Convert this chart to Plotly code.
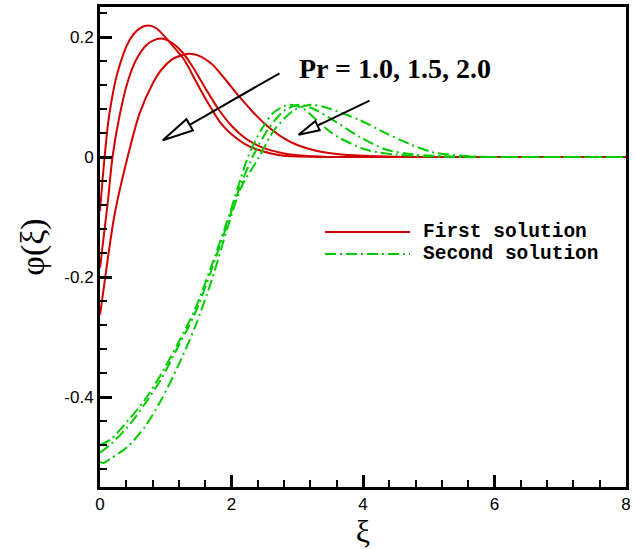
import plotly.graph_objects as go

# ---------------- data ----------------
# First solution (red, solid) for Pr = 1.0, 1.5, 2.0
xi_r1 = [0, 0.07, 0.14, 0.27, 0.45, 0.6, 0.73, 0.85, 1.0, 1.1, 1.28, 1.45, 1.6, 1.84, 2.0, 2.2, 2.4, 2.6, 2.8, 3.0, 3.5, 4.0, 5.0, 6.0, 7.0, 8.0]
phi_r1 = [-0.09, 0.0, 0.07, 0.142, 0.195, 0.214, 0.219, 0.215, 0.199, 0.186, 0.162, 0.128, 0.098, 0.056, 0.038, 0.022, 0.012, 0.006, 0.002, 0.001, 0.0, 0.0, 0.0, 0.0, 0.0, 0.0]

xi_r2 = [0, 0.12, 0.19, 0.3, 0.42, 0.55, 0.7, 0.85, 0.96, 1.1, 1.25, 1.4, 1.6, 1.8, 2.0, 2.2, 2.4, 2.6, 2.8, 3.0, 3.3, 3.6, 4.5, 6.0, 7.0, 8.0]
phi_r2 = [-0.185, -0.074, 0.0, 0.07, 0.125, 0.162, 0.186, 0.196, 0.197, 0.19, 0.175, 0.152, 0.115, 0.08, 0.052, 0.032, 0.019, 0.011, 0.006, 0.003, 0.001, 0.0, 0.0, 0.0, 0.0, 0.0]

xi_r3 = [0, 0.07, 0.22, 0.42, 0.6, 0.8, 0.93, 1.1, 1.2, 1.35, 1.5, 1.7, 1.9, 2.1, 2.3, 2.5, 2.8, 3.0, 3.3, 3.6, 4.0, 4.5, 5.0, 6.0, 7.0, 8.0]
phi_r3 = [-0.263, -0.208, -0.097, 0.0, 0.072, 0.122, 0.145, 0.163, 0.168, 0.172, 0.169, 0.155, 0.13, 0.103, 0.078, 0.056, 0.031, 0.02, 0.01, 0.005, 0.002, 0.0005, 0.0, 0.0, 0.0, 0.0]

# Second solution (green, dash-dot) for Pr = 1.0, 1.5, 2.0
xi_g1 = [0, 0.17, 0.42, 0.68, 0.93, 1.18, 1.44, 1.69, 1.94, 2.1, 2.25, 2.45, 2.65, 2.88, 3.1, 3.29, 3.5, 3.64, 4.05, 4.5, 5.0, 5.5, 6.0, 7.0, 8.0]
phi_g1 = [-0.48, -0.47, -0.44, -0.405, -0.362, -0.312, -0.255, -0.183, -0.105, -0.05, 0.0, 0.045, 0.075, 0.087, 0.08, 0.062, 0.042, 0.032, 0.012, 0.004, 0.001, 0.0, 0.0, 0.0, 0.0]

xi_g2 = [0, 0.17, 0.42, 0.68, 0.93, 1.18, 1.44, 1.69, 1.94, 2.1, 2.32, 2.55, 2.8, 3.03, 3.25, 3.54, 3.94, 4.36, 4.8, 5.3, 6.0, 7.0, 8.0]
phi_g2 = [-0.493, -0.478, -0.45, -0.412, -0.37, -0.318, -0.262, -0.19, -0.11, -0.058, 0.0, 0.045, 0.077, 0.087, 0.08, 0.062, 0.034, 0.012, 0.004, 0.001, 0.0, 0.0, 0.0]

xi_g3 = [0, 0.05, 0.17, 0.42, 0.68, 0.93, 1.18, 1.44, 1.7, 1.94, 2.15, 2.42, 2.65, 2.95, 3.21, 3.45, 3.94, 4.36, 4.75, 5.06, 5.5, 6.0, 7.0, 8.0]
phi_g3 = [-0.508, -0.51, -0.502, -0.483, -0.45, -0.405, -0.35, -0.285, -0.205, -0.118, -0.05, 0.0, 0.045, 0.078, 0.087, 0.082, 0.062, 0.039, 0.02, 0.008, 0.002, 0.0, 0.0, 0.0]

x_tickvals = [0, 2, 4, 6, 8]
x_ticktext = ["0", "2", "4", "6", "8"]
y_tickvals = [-0.4, -0.2, 0, 0.2]
y_ticktext = ["-0.4", "-0.2", "0", "0.2"]

legend_labels = ["First solution", "Second solution"]
annot_text = "Pr = 1.0, 1.5, 2.0"

# ---------------- styles ----------------
RED = "#d20000"
GREEN = "#00cc00"
DASHDOT = "11px,4px,2px,4px"

X_RANGE = [0, 8]
Y_RANGE = [-0.55, 0.25]
W, H = 635, 549
ML, MR, MT, MB = 100, 9, 7, 62
PW, PH = W - ML - MR, H - MT - MB

fig = go.Figure()
for xs, ys in [(xi_r1, phi_r1), (xi_r2, phi_r2), (xi_r3, phi_r3)]:
    fig.add_trace(go.Scatter(x=xs, y=ys, mode="lines", showlegend=False,
                             line=dict(color=RED, width=2, shape="spline", smoothing=0.8)))
for xs, ys in [(xi_g1, phi_g1), (xi_g2, phi_g2), (xi_g3, phi_g3)]:
    fig.add_trace(go.Scatter(x=xs, y=ys, mode="lines", showlegend=False,
                             line=dict(color=GREEN, width=2, dash=DASHDOT, shape="spline", smoothing=0.8)))

# ---------------- arrows with hollow heads ----------------
sx = PW / (X_RANGE[1] - X_RANGE[0])
sy = PH / (Y_RANGE[1] - Y_RANGE[0])

def arrow(tail, tip, head_len, half_w):
    tx, ty = tail[0] * sx, tail[1] * sy
    px, py = tip[0] * sx, tip[1] * sy
    dx, dy = px - tx, py - ty
    L = (dx * dx + dy * dy) ** 0.5
    ux, uy = dx / L, dy / L
    bx, by = px - ux * head_len, py - uy * head_len
    nx, ny = -uy, ux
    b1 = ((bx + nx * half_w) / sx, (by + ny * half_w) / sy)
    b2 = ((bx - nx * half_w) / sx, (by - ny * half_w) / sy)
    base = (bx / sx, by / sy)
    fig.add_shape(type="line", xref="x", yref="y", x0=tail[0], y0=tail[1], x1=base[0], y1=base[1],
                  line=dict(color="black", width=2))
    path = f"M {tip[0]},{tip[1]} L {b1[0]},{b1[1]} L {b2[0]},{b2[1]} Z"
    fig.add_shape(type="path", xref="x", yref="y", path=path, fillcolor="white",
                  line=dict(color="black", width=2))

arrow((2.73, 0.1395), (0.955, 0.028), 31, 6.5)
arrow((4.10, 0.094), (3.02, 0.037), 21, 5)

fig.add_annotation(text=f"<b>{annot_text}</b>", x=(297 - ML) / PW, y=(H - MB - 68) / PH,
                   xref="paper", yref="paper", showarrow=False, xanchor="left", yanchor="middle",
                   font=dict(family="Liberation Serif", size=28, color="black"))

# ---------------- legend drawn manually ----------------
leg_x0, leg_x1, leg_tx = (325 - ML) / PW, (410 - ML) / PW, (421 - ML) / PW
leg_y = [(H - MB - 232) / PH, (H - MB - 254) / PH]
fig.add_shape(type="line", xref="paper", yref="paper", x0=leg_x0, x1=leg_x1, y0=leg_y[0], y1=leg_y[0],
              line=dict(color=RED, width=2))
fig.add_shape(type="line", xref="paper", yref="paper", x0=leg_x0, x1=leg_x1, y0=leg_y[1], y1=leg_y[1],
              line=dict(color=GREEN, width=2, dash=DASHDOT))
for lab, yy in zip(legend_labels, leg_y):
    fig.add_annotation(text=f"<b>{lab}</b>", x=leg_tx, y=yy, xref="paper", yref="paper",
                       showarrow=False, xanchor="left", yanchor="middle",
                       font=dict(family="Liberation Mono", size=19.5, color="black"))

# ---------------- axes ----------------
axis_common = dict(showgrid=False, zeroline=False, showline=True, linecolor="black", linewidth=3,
                   mirror=True, ticks="inside", tickcolor="black", tickwidth=2.5, ticklen=12,
                   automargin=False,
                   tickfont=dict(family="Liberation Sans", size=17, color="black"))
fig.update_xaxes(range=X_RANGE, tickmode="array", tickvals=x_tickvals, ticktext=x_ticktext,
                 minor=dict(ticks="inside", tickmode="linear", tick0=0, dtick=0.4, ticklen=7,
                            tickwidth=1.5, tickcolor="black"),
                 title=dict(text="ξ", font=dict(family="Liberation Serif", size=32, color="black"), standoff=0),
                 **axis_common)
fig.update_yaxes(range=Y_RANGE, tickmode="array", tickvals=y_tickvals, ticktext=y_ticktext,
                 minor=dict(ticks="inside", tickmode="linear", tick0=0, dtick=0.04, ticklen=7,
                            tickwidth=1.5, tickcolor="black"),
                 title=dict(text="φ(ξ)", font=dict(family="Liberation Serif", size=34, color="black"), standoff=10),
                 **axis_common)

fig.update_layout(width=W, height=H, margin=dict(l=ML, r=MR, t=MT, b=MB),
                  plot_bgcolor="white", paper_bgcolor="white", showlegend=False)

fig.write_html("out.html", config={"displayModeBar": False},
               post_script="document.body.style.margin='0';document.body.style.padding='0';")
